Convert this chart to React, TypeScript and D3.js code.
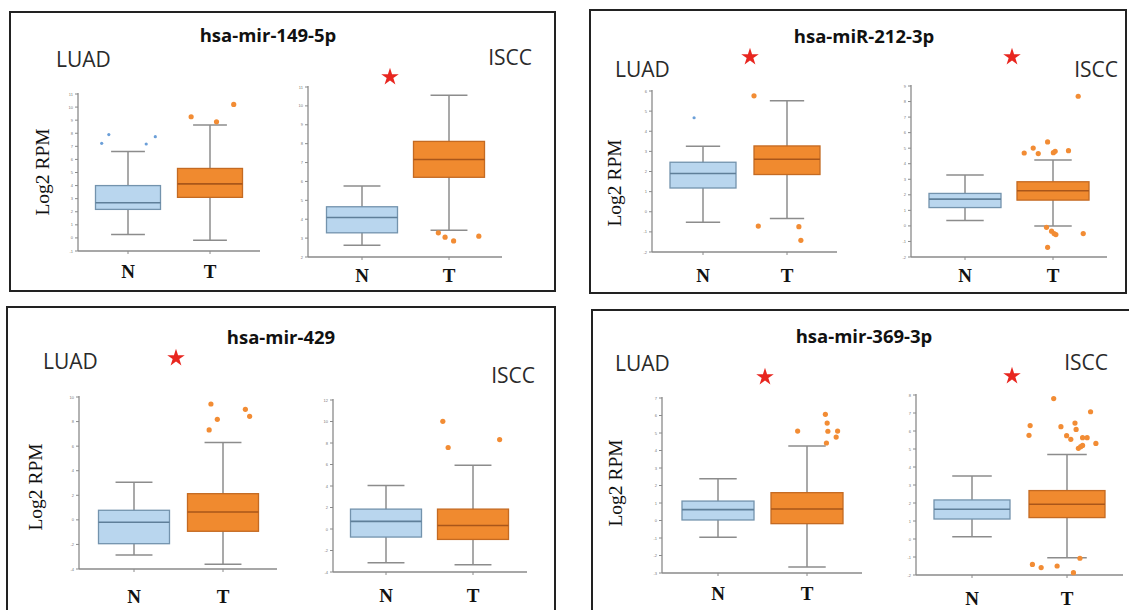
import React from "react";
import * as d3 from "d3";

// ---------- DATA ----------
const groups = ["N", "T"];
const titles = ["hsa-mir-149-5p", "hsa-miR-212-3p", "hsa-mir-429", "hsa-mir-369-3p"];
const cohorts = ["LUAD", "ISCC"];
const yAxisTitle = "Log2 RPM";

// y-axis domains [min, max] and tick steps
const mir149LuadDomain = [-1, 11];
const mir149LsccDomain = [2, 11];
const mir212LuadDomain = [-2, 6];
const mir212LsccDomain = [-2, 9];
const mir429LuadDomain = [-4, 10];
const mir429LsccDomain = [-4, 12];
const mir369LuadDomain = [-3, 7];
const mir369LsccDomain = [-2, 8];
const tickSteps = [1, 1, 1, 1, 2, 2, 1, 1];

// box stats: [lower whisker, Q1, median, Q3, upper whisker]
const mir149LuadN = [0.26, 2.18, 2.69, 4.0, 6.6];
const mir149LuadT = [-0.18, 3.1, 4.13, 5.31, 8.64];
const mir149LsccN = [2.62, 3.28, 4.09, 4.66, 5.76];
const mir149LsccT = [3.42, 6.22, 7.16, 8.12, 10.56];
const mir212LuadN = [-0.52, 1.18, 1.9, 2.46, 3.26];
const mir212LuadT = [-0.33, 1.85, 2.61, 3.27, 5.51];
const mir212LsccN = [0.34, 1.18, 1.72, 2.09, 3.27];
const mir212LsccT = [0.0, 1.66, 2.26, 2.84, 4.24];
const mir429LuadN = [-2.86, -1.94, -0.2, 0.78, 3.06];
const mir429LuadT = [-3.62, -0.93, 0.64, 2.13, 6.29];
const mir429LsccN = [-3.13, -0.75, 0.71, 1.85, 4.05];
const mir429LsccT = [-3.32, -0.97, 0.33, 1.85, 5.94];
const mir369LuadN = [-0.96, 0.03, 0.62, 1.11, 2.39];
const mir369LuadT = [-2.66, -0.18, 0.66, 1.59, 4.26];
const mir369LsccN = [0.13, 1.11, 1.65, 2.17, 3.5];
const mir369LsccT = [-1.04, 1.19, 1.93, 2.69, 4.69];

// outliers: [jitter (fraction of half box width), value]
const mir149LuadNOut = [[-0.81, 7.23], [-0.59, 7.9], [0.56, 7.18], [0.84, 7.74]];
const mir149LuadTOut = [[-0.58, 9.26], [0.2, 8.87], [0.73, 10.2]];
const mir149LsccNOut: number[][] = [];
const mir149LsccTOut = [[-0.3, 3.28], [-0.11, 3.05], [0.13, 2.85], [0.84, 3.1]];
const mir212LuadNOut = [[-0.27, 4.67]];
const mir212LuadTOut = [[-1.0, 5.76], [-0.87, -0.71], [0.36, -0.74], [0.42, -1.42]];
const mir212LsccNOut: number[][] = [];
const mir212LsccTOut = [
  [0.7, 8.34], [-0.8, 4.69], [-0.55, 5.01], [-0.41, 4.65], [-0.15, 5.4], [0.01, 4.71],
  [0.06, 4.8], [0.43, 4.84], [-0.18, -0.09], [-0.04, -0.34], [0.03, -0.49], [0.08, -0.56],
  [0.84, -0.49], [-0.15, -1.38],
];
const mir429LuadNOut: number[][] = [];
const mir429LuadTOut = [[-0.34, 9.43], [-0.16, 8.18], [-0.39, 7.32], [0.63, 9.0], [0.75, 8.43]];
const mir429LsccNOut: number[][] = [];
const mir429LsccTOut = [[-0.85, 10.02], [-0.7, 7.58], [0.75, 8.32]];
const mir369LuadNOut: number[][] = [];
const mir369LuadTOut = [[-0.26, 5.11], [0.51, 6.07], [0.56, 5.57], [0.58, 5.1], [0.85, 5.11], [0.81, 4.77], [0.54, 4.43]];
const mir369LsccNOut: number[][] = [];
const mir369LsccTOut = [
  [-0.35, 7.8], [0.62, 7.07], [-0.97, 6.3], [-1.0, 5.76], [-0.16, 6.24], [0.21, 6.44],
  [0.24, 6.09], [-0.01, 5.74], [0.1, 5.54], [0.41, 5.63], [0.53, 5.63], [0.76, 5.31],
  [0.3, 5.04], [0.36, 5.13], [0.41, 5.2], [0.34, -1.07], [-0.91, -1.41], [-0.68, -1.59],
  [-0.26, -1.5], [0.17, -1.87],
];

// significance stars (true = shown) per subplot
const significant = [false, true, true, true, true, false, true, true];

// ---------- LAYOUT ----------
const panels = [
  { border: [10, 12, 545, 279], titleX: 268, titleY: 42, yLab: [43, 172] },
  { border: [590, 10, 536, 283], titleX: 864, titleY: 43, yLab: [615, 183] },
  { border: [7, 307, 548, 320], titleX: 281, titleY: 344, yLab: [36, 487] },
  { border: [592, 310, 560, 320], titleX: 864, titleY: 343, yLab: [616, 483] },
];

const subLayouts = [
  { ax: 78, axEnd: 260, top: 94, bottom: 251, cx: [128, 210], bw: 65, labelY: 278, coh: [56, 67, "start"], star: null },
  { ax: 308, axEnd: 502, top: 87, bottom: 257, cx: [362, 449], bw: 71, labelY: 282, coh: [532, 65, "end"], star: [390, 77] },
  { ax: 652, axEnd: 837, top: 91, bottom: 252, cx: [703, 787], bw: 66, labelY: 282, coh: [615, 77, "start"], star: [750, 57] },
  { ax: 911, axEnd: 1107, top: 86, bottom: 257, cx: [965, 1053], bw: 72, labelY: 282, coh: [1118, 77, "end"], star: [1012, 57] },
  { ax: 79, axEnd: 277, top: 397, bottom: 569, cx: [134, 223], bw: 71, labelY: 603, coh: [43, 369, "start"], star: [176, 358] },
  { ax: 333, axEnd: 527, top: 400, bottom: 572, cx: [386, 473], bw: 71, labelY: 602, coh: [535, 383, "end"], star: null },
  { ax: 662, axEnd: 862, top: 398, bottom: 573, cx: [718, 807], bw: 72, labelY: 600, coh: [615, 371, "start"], star: [765, 377] },
  { ax: 916, axEnd: 1123, top: 395, bottom: 575, cx: [972, 1067], bw: 76, labelY: 605, coh: [1108, 370, "end"], star: [1012, 376] },
];

const domains = [
  mir149LuadDomain, mir149LsccDomain, mir212LuadDomain, mir212LsccDomain,
  mir429LuadDomain, mir429LsccDomain, mir369LuadDomain, mir369LsccDomain,
];
const statsN = [mir149LuadN, mir149LsccN, mir212LuadN, mir212LsccN, mir429LuadN, mir429LsccN, mir369LuadN, mir369LsccN];
const statsT = [mir149LuadT, mir149LsccT, mir212LuadT, mir212LsccT, mir429LuadT, mir429LsccT, mir369LuadT, mir369LsccT];
const outN = [mir149LuadNOut, mir149LsccNOut, mir212LuadNOut, mir212LsccNOut, mir429LuadNOut, mir429LsccNOut, mir369LuadNOut, mir369LsccNOut];
const outT = [mir149LuadTOut, mir149LsccTOut, mir212LuadTOut, mir212LsccTOut, mir429LuadTOut, mir429LsccTOut, mir369LuadTOut, mir369LsccTOut];

const style = {
  N: { fill: "#b9d6ee", stroke: "#7393ad", median: "#5f7f99", dot: "#6b9fd8", r: 1.6 },
  T: { fill: "#f08a2f", stroke: "#c46a22", median: "#a9561a", dot: "#f28c34", r: 2.6 },
};

const starPath = d3.symbol().type(d3.symbolStar).size(95)() as string;

function SubPlot({ i }: { i: number }) {
  const lay = subLayouts[i];
  const domain = domains[i];
  const y = d3.scaleLinear().domain(domain).range([lay.bottom, lay.top]);
  const x = d3.scalePoint().domain(groups).range(lay.cx as [number, number]);
  const ticks = d3.range(domain[0], domain[1] + tickSteps[i] / 2, tickSteps[i]);
  const series = [
    { g: "N", s: statsN[i], o: outN[i] },
    { g: "T", s: statsT[i], o: outT[i] },
  ];
  const cap = lay.bw * 0.52;
  return (
    <g>
      {/* axes */}
      <line x1={lay.ax} x2={lay.ax} y1={lay.top - 1} y2={lay.bottom} stroke="#8a8a8a" strokeWidth={1.3} />
      <line x1={lay.ax} x2={lay.axEnd} y1={lay.bottom} y2={lay.bottom} stroke="#8a8a8a" strokeWidth={1.3} />
      {ticks.map((t) => (
        <g key={t}>
          <line x1={lay.ax - 3} x2={lay.ax} y1={y(t)} y2={y(t)} stroke="#8a8a8a" strokeWidth={1} />
          <text x={lay.ax - 5} y={y(t) + 1.5} fontSize={4} fill="#777" textAnchor="end" fontFamily="Liberation Sans">
            {t}
          </text>
        </g>
      ))}
      {groups.map((g) => (
        <g key={g}>
          <line x1={x(g)} x2={x(g)} y1={lay.bottom} y2={lay.bottom + 3} stroke="#8a8a8a" strokeWidth={1} />
          <text x={x(g)} y={lay.labelY} fontSize={19} fontWeight={700} textAnchor="middle"
            fontFamily="'Liberation Serif', 'DejaVu Serif', serif" fill="#111">
            {g}
          </text>
        </g>
      ))}
      {series.map(({ g, s, o }) => {
        const st = (style as any)[g];
        const cx = x(g) as number;
        return (
          <g key={g}>
            <line x1={cx} x2={cx} y1={y(s[0])} y2={y(s[4])} stroke="#8c8c8c" strokeWidth={1.5} />
            <line x1={cx - cap / 2} x2={cx + cap / 2} y1={y(s[0])} y2={y(s[0])} stroke="#8c8c8c" strokeWidth={1.5} />
            <line x1={cx - cap / 2} x2={cx + cap / 2} y1={y(s[4])} y2={y(s[4])} stroke="#8c8c8c" strokeWidth={1.5} />
            <rect x={cx - lay.bw / 2} width={lay.bw} y={y(s[3])} height={y(s[1]) - y(s[3])}
              fill={st.fill} stroke={st.stroke} strokeWidth={1.3} />
            <line x1={cx - lay.bw / 2} x2={cx + lay.bw / 2} y1={y(s[2])} y2={y(s[2])} stroke={st.median} strokeWidth={1.6} />
            {o.map((p, k) => (
              <circle key={k} cx={cx + p[0] * lay.bw / 2} cy={y(p[1])} r={st.r} fill={st.dot} />
            ))}
          </g>
        );
      })}
      <text x={lay.coh[0] as number} y={lay.coh[1] as number} textAnchor={lay.coh[2] as any}
        fontSize={21} fontFamily="'Open Sans', sans-serif" fill="#2a2a2a">
        {cohorts[i % 2]}
      </text>
      {significant[i] && lay.star && (
        <path d={starPath} transform={`translate(${lay.star[0]},${lay.star[1]})`} fill="#e8261f" />
      )}
    </g>
  );
}

export default function App() {
  return (
    <svg width={1129} height={610} style={{ position: "absolute", left: 0, top: 0, background: "#fff" }}>
      <rect x={0} y={0} width={1129} height={610} fill="#fff" />
      {panels.map((p, pi) => (
        <g key={pi}>
          <rect x={p.border[0]} y={p.border[1]} width={p.border[2]} height={p.border[3]}
            fill="none" stroke="#222" strokeWidth={2} />
          <text x={p.titleX} y={p.titleY} textAnchor="middle" fontSize={18.5} fontWeight={700}
            fontFamily="'Open Sans', sans-serif" fill="#111">
            {titles[pi]}
          </text>
          <text transform={`translate(${p.yLab[0] + 6},${p.yLab[1]}) rotate(-90)`} textAnchor="middle"
            fontSize={19.5} fontFamily="'Liberation Serif', serif" fill="#111">
            {yAxisTitle}
          </text>
          <SubPlot i={pi * 2} />
          <SubPlot i={pi * 2 + 1} />
        </g>
      ))}
    </svg>
  );
}
